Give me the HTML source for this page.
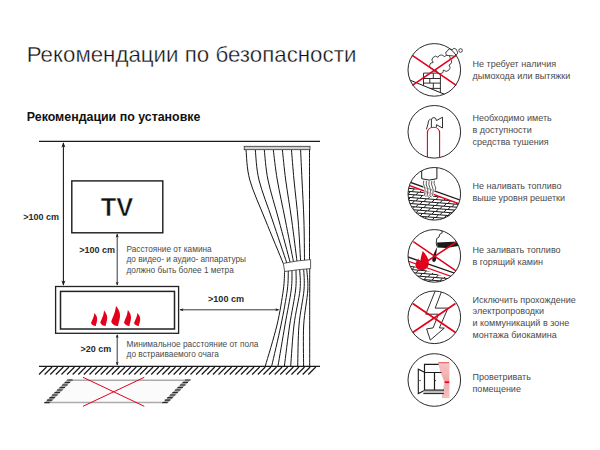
<!DOCTYPE html>
<html><head><meta charset="utf-8"><style>
html,body{margin:0;padding:0;background:#fff;}
body{width:600px;height:450px;position:relative;overflow:hidden;font-family:"Liberation Sans",sans-serif;}
svg{position:absolute;left:0;top:0;}
</style></head><body>
<svg width="600" height="450" viewBox="0 0 600 450">
<path d="M39 141.3H320" stroke="#1a1a1a" stroke-width="1.2"/>
<path d="M39 366.3H320" stroke="#1a1a1a" stroke-width="1.3"/>
<path d="M39 374.5L46.5 367 M44.61 374.5L52.11 367 M50.22 374.5L57.72 367 M55.83 374.5L63.33 367 M61.44 374.5L68.94 367 M67.05 374.5L74.55 367 M72.66 374.5L80.16 367 M78.27 374.5L85.77 367 M83.88 374.5L91.38 367 M89.49 374.5L96.99 367 M95.1 374.5L102.6 367 M100.71 374.5L108.21 367 M106.32 374.5L113.82 367 M111.93 374.5L119.43 367 M117.54 374.5L125.04 367 M123.15 374.5L130.65 367 M128.76 374.5L136.26 367 M134.37 374.5L141.87 367 M139.98 374.5L147.48 367 M145.59 374.5L153.09 367 M151.2 374.5L158.7 367 M156.81 374.5L164.31 367 M162.42 374.5L169.92 367 M168.03 374.5L175.53 367 M173.64 374.5L181.14 367 M179.25 374.5L186.75 367 M184.86 374.5L192.36 367 M190.47 374.5L197.97 367 M196.08 374.5L203.58 367 M201.69 374.5L209.19 367 M207.3 374.5L214.8 367 M212.91 374.5L220.41 367 M218.52 374.5L226.02 367 M224.13 374.5L231.63 367 M229.74 374.5L237.24 367 M235.35 374.5L242.85 367 M240.96 374.5L248.46 367 M246.57 374.5L254.07 367 M252.18 374.5L259.68 367 M257.79 374.5L265.29 367 M263.4 374.5L270.9 367 M269.01 374.5L276.51 367 M274.62 374.5L282.12 367 M280.23 374.5L287.73 367 M285.84 374.5L293.34 367 M291.45 374.5L298.95 367 M297.06 374.5L304.56 367 M302.67 374.5L310.17 367 M308.28 374.5L315.78 367" stroke="#1a1a1a" stroke-width="1.2"/>
<path d="M63.4 143V285" stroke="#1a1a1a" stroke-width="1.1"/>
<path d="M63.4 142.2 L61.4 147.5 L63.4 146.17 L65.4 147.5Z" fill="#1a1a1a"/>
<path d="M63.4 285.7 L61.4 280.4 L63.4 281.72 L65.4 280.4Z" fill="#1a1a1a"/>
<path d="M117.2 234V285" stroke="#222" stroke-width="0.9"/>
<path d="M117.2 233.6 L115.7 237.4 L117.2 236.45 L118.7 237.4Z" fill="#1a1a1a"/>
<path d="M117.2 285.6 L115.7 281.8 L117.2 282.75 L118.7 281.8Z" fill="#1a1a1a"/>
<path d="M117.2 335V365" stroke="#222" stroke-width="0.9"/>
<path d="M117.2 334.2 L115.7 338 L117.2 337.05 L118.7 338Z" fill="#1a1a1a"/>
<path d="M117.2 365.6 L115.7 361.8 L117.2 362.75 L118.7 361.8Z" fill="#1a1a1a"/>
<path d="M180 309.8H278.5" stroke="#222" stroke-width="0.9"/>
<path d="M179.6 309.8 L183.4 308.3 L182.45 309.8 L183.4 311.3Z" fill="#1a1a1a"/>
<path d="M279.2 309.8 L275.4 308.3 L276.35 309.8 L275.4 311.3Z" fill="#1a1a1a"/>
<rect x="71.8" y="180.9" width="91" height="51.9" fill="none" stroke="#1a1a1a" stroke-width="1.4"/>
<rect x="55.6" y="286.5" width="123" height="46.8" fill="none" stroke="#222" stroke-width="1.3"/>
<rect x="60.5" y="291.4" width="114" height="37.6" fill="none" stroke="#222" stroke-width="1.5"/>
<path d="M94.47 313 C96.33 315.34 97.39 317.16 97.2 319.76 C97.01 322.36 95.96 324.18 95.84 326 C94.1 325.87 91.5 325.09 91 323.01 C92.12 320.28 93.73 317.42 94.1 314.82 C94.22 313.91 94.29 313.39 94.47 313Z" fill="#e3001b"/>
<path d="M104.16 310.5 C106.23 313.29 107.41 315.46 107.2 318.56 C106.99 321.66 105.82 323.83 105.68 326 C103.75 325.85 100.85 324.92 100.3 322.44 C101.54 319.18 103.34 315.77 103.75 312.67 C103.89 311.58 103.96 310.96 104.16 310.5Z" fill="#e3001b"/>
<path d="M116.13 306 C118.77 309.6 120.26 312.4 120 316.4 C119.74 320.4 118.24 323.2 118.06 326 C115.6 325.8 111.9 324.6 111.2 321.4 C112.78 317.2 115.07 312.8 115.6 308.8 C115.78 307.4 115.86 306.6 116.13 306Z" fill="#e3001b"/>
<path d="M127.92 310 C130.02 312.88 131.21 315.12 131 318.32 C130.79 321.52 129.6 323.76 129.46 326 C127.5 325.84 124.56 324.88 124 322.32 C125.26 318.96 127.08 315.44 127.5 312.24 C127.64 311.12 127.71 310.48 127.92 310Z" fill="#e3001b"/>
<path d="M137.47 313 C139.33 315.34 140.39 317.16 140.2 319.76 C140.01 322.36 138.96 324.18 138.84 326 C137.1 325.87 134.5 325.09 134 323.01 C135.12 320.28 136.73 317.42 137.1 314.82 C137.22 313.91 137.29 313.39 137.47 313Z" fill="#e3001b"/>
<rect x="244.2" y="146.3" width="65.8" height="3.4" fill="#cfcfcf" stroke="#333" stroke-width="0.8"/>
<path d="M246 150 C246.63 155 246.57 168.33 249.8 180 C253.03 191.67 259.82 206.08 265.4 220 C270.98 233.92 280.32 256.25 283.3 263.5 M284.6 271.2 C284.38 274.33 284.57 281.03 283.3 290 C282.03 298.97 280 312.33 277 325 C274 337.67 267.25 359.17 265.3 366 M255.3 150 C255.92 155 256.15 168.33 259 180 C261.85 191.67 267.77 206.17 272.4 220 C277.03 233.83 284.4 255.82 286.8 262.99 M288.3 270.83 C288.13 274.02 288.52 280.97 287.3 290 C286.08 299.03 283.6 312.33 281 325 C278.4 337.67 273.25 359.17 271.7 366 M264.3 150 C264.92 155 265.58 168.33 268 180 C270.42 191.67 275.1 206.25 278.8 220 C282.5 233.75 288.3 255.39 290.2 262.47 M292 270.46 C291.87 273.71 292.37 280.91 291.2 290 C290.03 299.09 287.2 312.33 285 325 C282.8 337.67 279.17 359.17 278 366 M273.3 150 C273.97 155 275.3 168.33 277.3 180 C279.3 191.67 282.6 206.34 285.3 220 C288 233.66 292.13 254.96 293.5 261.96 M296 270.09 C295.93 273.4 296.65 280.85 295.6 290 C294.55 299.15 291.57 312.33 289.7 325 C287.83 337.67 285.28 359.17 284.4 366 M282.4 150 C282.95 155 284.15 168.33 285.7 180 C287.25 191.67 289.82 206.43 291.7 220 C293.58 233.57 296.12 254.54 297 261.44 M299.7 269.71 C299.75 273.1 300.95 280.79 300 290 C299.05 299.21 295.55 312.33 294 325 C292.45 337.67 291.25 359.17 290.7 366 M291.5 150 C291.92 155 292.9 168.33 294 180 C295.1 191.67 297 206.51 298.1 220 C299.2 233.49 300.18 254.11 300.6 260.93 M303.7 269.34 C303.75 272.79 304.78 280.72 304 290 C303.22 299.28 300.05 312.33 299 325 C297.95 337.67 297.92 359.17 297.7 366 M300.6 150 C300.83 155 301.45 168.33 302 180 C302.55 191.67 303.48 206.6 303.9 220 C304.32 233.4 304.4 253.68 304.5 260.41 M306.7 268.97 C306.88 272.48 308.3 280.66 307.8 290 C307.3 299.34 304.4 312.33 303.7 325 C303 337.67 303.62 359.17 303.6 366 M309.5 150 C309.5 155 309.5 168.33 309.5 180 C309.5 191.67 309.5 206.68 309.5 220 C309.5 233.32 309.5 253.25 309.5 259.9 M309.7 268.6 C309.7 272.17 309.7 280.6 309.7 290 C309.7 299.4 309.7 312.33 309.7 325 C309.7 337.67 309.7 359.17 309.7 366" fill="none" stroke="#151515" stroke-width="1"/>
<path d="M283.3 263.4 Q297 260.5 310.6 259.6 V268.6 Q297 269.6 284.7 271.5Z" fill="#fff" stroke="#333" stroke-width="0.8"/>
<path d="M67.5 380.2 H186 L163 402.4 H44.5Z" fill="#fbfbfb"/>
<path d="M70 380.2H186M44.5 402.4H163" stroke="#ababab" stroke-width="1.5"/>
<path d="M44.3 403 L67.3 379.6 H72.9 L49.9 403Z" fill="#a0a0a0"/><path d="M44.3 402.6h5.4 M46.86 400.09h5.4 M49.41 397.58h5.4 M51.97 395.07h5.4 M54.52 392.56h5.4 M57.08 390.04h5.4 M59.63 387.53h5.4 M62.19 385.02h5.4 M64.74 382.51h5.4 M67.3 380h5.4" stroke="#2a2a2a" stroke-width="1.1"/>
<path d="M162.2 403 L185.2 379.6 H190.8 L167.8 403Z" fill="#a0a0a0"/><path d="M162.2 402.6h5.4 M164.76 400.09h5.4 M167.31 397.58h5.4 M169.87 395.07h5.4 M172.42 392.56h5.4 M174.98 390.04h5.4 M177.53 387.53h5.4 M180.09 385.02h5.4 M182.64 382.51h5.4 M185.2 380h5.4" stroke="#2a2a2a" stroke-width="1.1"/>
<path d="M83 377.3L144.3 406.3M144.3 377.3L83 406.3" stroke="#e3001b" stroke-width="1"/>
<clipPath id="c0"><circle cx="434.3" cy="69.9" r="26.3"/></clipPath>
<clipPath id="c1"><circle cx="434.3" cy="131.8" r="26.3"/></clipPath>
<clipPath id="c2"><circle cx="434.3" cy="193.8" r="26.3"/></clipPath>
<clipPath id="c3"><circle cx="434.3" cy="255.9" r="26.3"/></clipPath>
<clipPath id="c4"><circle cx="434.3" cy="317.3" r="26.3"/></clipPath>
<clipPath id="c5"><circle cx="434.3" cy="380.0" r="26.3"/></clipPath>
<clipPath id="sl1"><path d="M400 40 H470 V104.7 L400 76Z"/></clipPath>
<g clip-path="url(#c0)"><path d="M408 79.3 L447 95.3" stroke="#1a1a1a" stroke-width="1"/><g clip-path="url(#sl1)"><path d="M423.5 73.1 H440.4 V95 M423.5 73.1 V90 M423.5 78.5H440.4 M423.5 83.1H440.4 M423.5 88.4H440.4 M433.3 73.1V78.5 M429.8 78.5V83.1 M433.3 83.1V88.4 M429.8 88.4V94" fill="none" stroke="#1a1a1a" stroke-width="0.9"/></g></g>
<path d="M432.5 69 A3 3 0 0 1 433.2 62.5 A3.5 3.5 0 0 1 438 57.3 A3.5 3.5 0 0 1 444.5 57 A3 3 0 0 1 450.2 58.8 A3.5 3.5 0 0 1 449 65 A3.5 3.5 0 0 1 443.5 70 A3.5 3.5 0 0 1 436.5 70.5 A2.5 2.5 0 0 1 432.5 69 Z" fill="#fff" stroke="#1a1a1a" stroke-width="0.8"/>
<path d="M448.5 55.5 A2.3 2.3 0 0 1 447.5 51 A2.5 2.5 0 0 1 452 50 A2.5 2.5 0 0 1 456.8 50.8 A2.5 2.5 0 0 1 456 55 A3 3 0 0 1 452 55.8 Z" fill="#fff" stroke="#1a1a1a" stroke-width="0.8"/>
<circle cx="460.6" cy="50.5" r="1.8" fill="none" stroke="#1a1a1a" stroke-width="0.8"/>
<path d="M412.3 55.3L456.3 85.3M456.3 55.3L412.3 85.3" stroke="#e3001b" stroke-width="1.6"/>
<g clip-path="url(#c1)"><path d="M427.4 160 V133 C427.4 129.5 430 127.3 433.5 127.3 C437 127.3 439.6 129.5 439.6 133 V160" fill="none" stroke="#e3001b" stroke-width="1.1"/></g>
<path d="M426.4 129.4 L428 124 Q428.3 119.5 430.6 119.2 M431.4 127.2 V120 Q431.5 117.6 433.9 117.6 Q436.4 117.7 436.4 120.6 L442.5 117.2 V128 L436.4 124.7 V127.2" fill="none" stroke="#1a1a1a" stroke-width="0.9"/>
<clipPath id="h3"><path d="M404 184.5 L466 206 V230 H404Z"/></clipPath>
<g clip-path="url(#c2)"><g clip-path="url(#h3)"><path d="M404 182 L466 186.96 M404 185 L406.4 182.19 M412 185.64 L414.4 182.83 M420 186.28 L422.4 183.47 M428 186.92 L430.4 184.11 M436 187.56 L438.4 184.75 M444 188.2 L446.4 185.39 M452 188.84 L454.4 186.03 M460 189.48 L462.4 186.67 M404 185 L466 189.96 M408 188.32 L410.4 185.51 M416 188.96 L418.4 186.15 M424 189.6 L426.4 186.79 M432 190.24 L434.4 187.43 M440 190.88 L442.4 188.07 M448 191.52 L450.4 188.71 M456 192.16 L458.4 189.35 M464 192.8 L466.4 189.99 M404 188 L466 192.96 M404 191 L406.4 188.19 M412 191.64 L414.4 188.83 M420 192.28 L422.4 189.47 M428 192.92 L430.4 190.11 M436 193.56 L438.4 190.75 M444 194.2 L446.4 191.39 M452 194.84 L454.4 192.03 M460 195.48 L462.4 192.67 M404 191 L466 195.96 M408 194.32 L410.4 191.51 M416 194.96 L418.4 192.15 M424 195.6 L426.4 192.79 M432 196.24 L434.4 193.43 M440 196.88 L442.4 194.07 M448 197.52 L450.4 194.71 M456 198.16 L458.4 195.35 M464 198.8 L466.4 195.99 M404 194 L466 198.96 M404 197 L406.4 194.19 M412 197.64 L414.4 194.83 M420 198.28 L422.4 195.47 M428 198.92 L430.4 196.11 M436 199.56 L438.4 196.75 M444 200.2 L446.4 197.39 M452 200.84 L454.4 198.03 M460 201.48 L462.4 198.67 M404 197 L466 201.96 M408 200.32 L410.4 197.51 M416 200.96 L418.4 198.15 M424 201.6 L426.4 198.79 M432 202.24 L434.4 199.43 M440 202.88 L442.4 200.07 M448 203.52 L450.4 200.71 M456 204.16 L458.4 201.35 M464 204.8 L466.4 201.99 M404 200 L466 204.96 M404 203 L406.4 200.19 M412 203.64 L414.4 200.83 M420 204.28 L422.4 201.47 M428 204.92 L430.4 202.11 M436 205.56 L438.4 202.75 M444 206.2 L446.4 203.39 M452 206.84 L454.4 204.03 M460 207.48 L462.4 204.67 M404 203 L466 207.96 M408 206.32 L410.4 203.51 M416 206.96 L418.4 204.15 M424 207.6 L426.4 204.79 M432 208.24 L434.4 205.43 M440 208.88 L442.4 206.07 M448 209.52 L450.4 206.71 M456 210.16 L458.4 207.35 M464 210.8 L466.4 207.99 M404 206 L466 210.96 M404 209 L406.4 206.19 M412 209.64 L414.4 206.83 M420 210.28 L422.4 207.47 M428 210.92 L430.4 208.11 M436 211.56 L438.4 208.75 M444 212.2 L446.4 209.39 M452 212.84 L454.4 210.03 M460 213.48 L462.4 210.67 M404 209 L466 213.96 M408 212.32 L410.4 209.51 M416 212.96 L418.4 210.15 M424 213.6 L426.4 210.79 M432 214.24 L434.4 211.43 M440 214.88 L442.4 212.07 M448 215.52 L450.4 212.71 M456 216.16 L458.4 213.35 M464 216.8 L466.4 213.99 M404 212 L466 216.96 M404 215 L406.4 212.19 M412 215.64 L414.4 212.83 M420 216.28 L422.4 213.47 M428 216.92 L430.4 214.11 M436 217.56 L438.4 214.75 M444 218.2 L446.4 215.39 M452 218.84 L454.4 216.03 M460 219.48 L462.4 216.67 M404 215 L466 219.96 M408 218.32 L410.4 215.51 M416 218.96 L418.4 216.15 M424 219.6 L426.4 216.79 M432 220.24 L434.4 217.43 M440 220.88 L442.4 218.07 M448 221.52 L450.4 218.71 M456 222.16 L458.4 219.35 M464 222.8 L466.4 219.99 M404 218 L466 222.96 M404 221 L406.4 218.19 M412 221.64 L414.4 218.83 M420 222.28 L422.4 219.47 M428 222.92 L430.4 220.11 M436 223.56 L438.4 220.75 M444 224.2 L446.4 221.39 M452 224.84 L454.4 222.03 M460 225.48 L462.4 222.67 M404 221 L466 225.96 M408 224.32 L410.4 221.51 M416 224.96 L418.4 222.15 M424 225.6 L426.4 222.79 M432 226.24 L434.4 223.43 M440 226.88 L442.4 224.07 M448 227.52 L450.4 224.71 M456 228.16 L458.4 225.35 M464 228.8 L466.4 225.99 M404 224 L466 228.96 M404 227 L406.4 224.19 M412 227.64 L414.4 224.83 M420 228.28 L422.4 225.47 M428 228.92 L430.4 226.11 M436 229.56 L438.4 226.75 M444 230.2 L446.4 227.39 M452 230.84 L454.4 228.03 M460 231.48 L462.4 228.67" stroke="#1a1a1a" stroke-width="1.0" fill="none"/></g><path d="M404 180.1 L466 202.2" stroke="#1a1a1a" stroke-width="1.3"/><path d="M404 183.5 L466 206.3" stroke="#e3001b" stroke-width="1.3"/><path d="M421.7 160 V178.7 Q429 181.5 436.9 178.7 V160" fill="#fff" stroke="#1a1a1a" stroke-width="1"/><path d="M423.8 180.6 q-1 3 0.5 6 t0.5 6 t1 4 M426.5 181 q-1 3 0.5 6 t0.5 6 t1 4 M429.2 181.2 q-1 3 0.5 6 t0.5 6 t1 4 M431.9 181 q-1 3 0.5 6 t0.5 6 t1 4 M434.4 180.6 q-1 3 0.5 5 t0.5 5" fill="none" stroke="#fff" stroke-width="2.2"/><path d="M423.8 180.6 q-1 3 0.5 6 t0.5 6 t1 4 M426.5 181 q-1 3 0.5 6 t0.5 6 t1 4 M429.2 181.2 q-1 3 0.5 6 t0.5 6 t1 4 M431.9 181 q-1 3 0.5 6 t0.5 6 t1 4 M434.4 180.6 q-1 3 0.5 5 t0.5 5" fill="none" stroke="#1a1a1a" stroke-width="0.7"/></g>
<clipPath id="h4"><path d="M404 262.5 L466 284.5 V295 H404Z"/></clipPath>
<g clip-path="url(#c3)"><g clip-path="url(#h4)"><path d="M404 260 L466 264.96 M404 263 L406.4 260.19 M412 263.64 L414.4 260.83 M420 264.28 L422.4 261.47 M428 264.92 L430.4 262.11 M436 265.56 L438.4 262.75 M444 266.2 L446.4 263.39 M452 266.84 L454.4 264.03 M460 267.48 L462.4 264.67 M404 263 L466 267.96 M408 266.32 L410.4 263.51 M416 266.96 L418.4 264.15 M424 267.6 L426.4 264.79 M432 268.24 L434.4 265.43 M440 268.88 L442.4 266.07 M448 269.52 L450.4 266.71 M456 270.16 L458.4 267.35 M464 270.8 L466.4 267.99 M404 266 L466 270.96 M404 269 L406.4 266.19 M412 269.64 L414.4 266.83 M420 270.28 L422.4 267.47 M428 270.92 L430.4 268.11 M436 271.56 L438.4 268.75 M444 272.2 L446.4 269.39 M452 272.84 L454.4 270.03 M460 273.48 L462.4 270.67 M404 269 L466 273.96 M408 272.32 L410.4 269.51 M416 272.96 L418.4 270.15 M424 273.6 L426.4 270.79 M432 274.24 L434.4 271.43 M440 274.88 L442.4 272.07 M448 275.52 L450.4 272.71 M456 276.16 L458.4 273.35 M464 276.8 L466.4 273.99 M404 272 L466 276.96 M404 275 L406.4 272.19 M412 275.64 L414.4 272.83 M420 276.28 L422.4 273.47 M428 276.92 L430.4 274.11 M436 277.56 L438.4 274.75 M444 278.2 L446.4 275.39 M452 278.84 L454.4 276.03 M460 279.48 L462.4 276.67 M404 275 L466 279.96 M408 278.32 L410.4 275.51 M416 278.96 L418.4 276.15 M424 279.6 L426.4 276.79 M432 280.24 L434.4 277.43 M440 280.88 L442.4 278.07 M448 281.52 L450.4 278.71 M456 282.16 L458.4 279.35 M464 282.8 L466.4 279.99 M404 278 L466 282.96 M404 281 L406.4 278.19 M412 281.64 L414.4 278.83 M420 282.28 L422.4 279.47 M428 282.92 L430.4 280.11 M436 283.56 L438.4 280.75 M444 284.2 L446.4 281.39 M452 284.84 L454.4 282.03 M460 285.48 L462.4 282.67 M404 281 L466 285.96 M408 284.32 L410.4 281.51 M416 284.96 L418.4 282.15 M424 285.6 L426.4 282.79 M432 286.24 L434.4 283.43 M440 286.88 L442.4 284.07 M448 287.52 L450.4 284.71 M456 288.16 L458.4 285.35 M464 288.8 L466.4 285.99 M404 284 L466 288.96 M404 287 L406.4 284.19 M412 287.64 L414.4 284.83 M420 288.28 L422.4 285.47 M428 288.92 L430.4 286.11 M436 289.56 L438.4 286.75 M444 290.2 L446.4 287.39 M452 290.84 L454.4 288.03 M460 291.48 L462.4 288.67 M404 287 L466 291.96 M408 290.32 L410.4 287.51 M416 290.96 L418.4 288.15 M424 291.6 L426.4 288.79 M432 292.24 L434.4 289.43 M440 292.88 L442.4 290.07 M448 293.52 L450.4 290.71 M456 294.16 L458.4 291.35 M464 294.8 L466.4 291.99" stroke="#1a1a1a" stroke-width="1.0" fill="none"/></g><path d="M404 255.6 L466 277.2" stroke="#1a1a1a" stroke-width="1.2"/><path d="M404 259.6 L466 281.6" stroke="#e3001b" stroke-width="1.2"/><path d="M441.5 228.5 L442.2 232.8 L439.8 234.2 L439 237 L436.8 238.5 L436.2 243 L437 246.5" fill="none" stroke="#1a1a1a" stroke-width="0.9"/><path d="M437 242.5 L458.5 241.5 L460 245.8 L446 248 L437.5 247.5 Z" fill="#1a1a1a"/><path d="M437.4 246.5 C436.8 250 436.2 253 436 255.5 C436.8 258 436.2 261.6 434 261.9 C431.8 262.1 431.9 259 432.9 256 C434.2 252.5 435.8 249.5 437.4 246.5Z" fill="#1a1a1a"/><path d="M413.3 241.6 L456 270.8 M457 241.5 L424.5 263" stroke="#e3001b" stroke-width="1.5"/><path d="M422.7 251 C425.5 254 428.8 258 428.8 263 C428.8 267.5 425.5 270.2 421.8 270.2 C417.5 270.2 415.2 267.5 415.5 264 C415.8 261.5 417.5 259.8 418.5 258.2 C418.5 260.8 419.5 262 420.5 262.5 C420.2 259.5 421.2 256 422.7 251Z" fill="#e3001b"/></g>
<path d="M435.2 291 L425.8 314.2 L438.5 314.2 L433.1 327.9 L426.6 328.9 L430.3 340.1 L444.3 328.1 L439.4 327.9 L448 308.1 L435.2 308.1 L441.7 291" fill="none" stroke="#1a1a1a" stroke-width="0.9" clip-path="url(#c4)"/>
<path d="M412.7 303.5L455.5 332.5M455.5 303.5L412.7 332.5" stroke="#e3001b" stroke-width="1.6"/>
<path d="M438.6 363 Q441 374 444.6 381.5 L442.2 398 H449.2 V363Z" fill="#fdf2f2"/>
<path d="M438.6 363 Q440.8 374 444.6 381.5 M439.64 363 Q441.62 374 445.04 381.5 M440.68 363 Q442.44 374 445.48 381.5 M441.72 363 Q443.26 374 445.92 381.5 M442.76 363 Q444.08 374 446.36 381.5 M443.8 363 Q444.9 374 446.8 381.5 M444.84 363 Q445.72 374 447.24 381.5 M445.88 363 Q446.54 374 447.68 381.5 M446.92 363 Q447.36 374 448.12 381.5 M447.96 363 Q448.18 374 448.56 381.5 M449 363 Q449 374 449 381.5 M444.6 383 L442.2 398 M445.23 383 L443.17 398 M445.86 383 L444.14 398 M446.49 383 L445.11 398 M447.11 383 L446.09 398 M447.74 383 L447.06 398 M448.37 383 L448.03 398 M449 383 L449 398" stroke="#ec8c8c" stroke-width="0.55" fill="none"/>
<path d="M438.3 362.6H449.2" stroke="#ea7070" stroke-width="1.3"/>
<path d="M424.5 390.2 V364.3 H438.6 M424.5 372.5 H441.5 M434.5 372.5 V390.2 M424.5 390.2 H444" fill="none" stroke="#1a1a1a" stroke-width="1.2"/>
<path d="M424.5 372.3 L418.3 369.2 V393.5 L424.5 390.5" fill="none" stroke="#1a1a1a" stroke-width="1.1"/>
<path d="M419.3 380.6h1.6 M434.5 380.6h1.6" stroke="#1a1a1a" stroke-width="0.8"/>
<path d="M423.5 390.9 H443.8 V393.2 H423.5 Z" fill="#bdbdbd"/>
<path d="M423.3 393.6 H443.8" stroke="#1a1a1a" stroke-width="1"/>
<path d="M444.5 382.2h4.8" stroke="#e3001b" stroke-width="1.7"/>
<circle cx="434.3" cy="69.9" r="26.3" fill="none" stroke="#2a2a2a" stroke-width="1"/>
<circle cx="434.3" cy="131.8" r="26.3" fill="none" stroke="#2a2a2a" stroke-width="1"/>
<circle cx="434.3" cy="193.8" r="26.3" fill="none" stroke="#2a2a2a" stroke-width="1"/>
<circle cx="434.3" cy="255.9" r="26.3" fill="none" stroke="#2a2a2a" stroke-width="1"/>
<circle cx="434.3" cy="317.3" r="26.3" fill="none" stroke="#2a2a2a" stroke-width="1"/>
<circle cx="434.3" cy="380.0" r="26.3" fill="none" stroke="#2a2a2a" stroke-width="1"/>
</svg>
<div style="position:absolute;left:26.7px;top:43.52px;font-size:22.3px;line-height:22.3px;font-weight:400;color:#111;white-space:pre;-webkit-text-stroke:0.35px #fff;">Рекомендации по безопасности</div>
<div style="position:absolute;left:26.8px;top:110.7px;font-size:12.4px;line-height:12.4px;font-weight:700;color:#111;white-space:pre;">Рекомендации по установке</div>
<div style="position:absolute;left:23.3px;top:212.88px;font-size:9px;line-height:9px;font-weight:700;color:#2a2a2a;white-space:pre;">&gt;100 cm</div>
<div style="position:absolute;left:100.8px;top:194.5px;font-size:25.4px;line-height:25.4px;font-weight:700;color:#111;white-space:pre;-webkit-text-stroke:0.5px #fff;">TV</div>
<div style="position:absolute;left:79.2px;top:245.78px;font-size:9px;line-height:9px;font-weight:700;color:#2a2a2a;white-space:pre;">&gt;100 cm</div>
<div style="position:absolute;left:126.5px;top:245.52px;font-size:8.25px;line-height:8.25px;font-weight:400;color:#4a4a4a;white-space:pre;">Расстояние от камина</div>
<div style="position:absolute;left:126.5px;top:256.02px;font-size:8.25px;line-height:8.25px;font-weight:400;color:#4a4a4a;white-space:pre;">до видео- и аудио- аппаратуры</div>
<div style="position:absolute;left:126.5px;top:266.52px;font-size:8.25px;line-height:8.25px;font-weight:400;color:#4a4a4a;white-space:pre;">должно быть более 1 метра</div>
<div style="position:absolute;left:208px;top:294.5px;font-size:9.1px;line-height:9.1px;font-weight:700;color:#2a2a2a;white-space:pre;">&gt;100 cm</div>
<div style="position:absolute;left:80.5px;top:345.18px;font-size:9px;line-height:9px;font-weight:700;color:#2a2a2a;white-space:pre;">&gt;20 cm</div>
<div style="position:absolute;left:126.6px;top:340.47px;font-size:8.3px;line-height:8.3px;font-weight:400;color:#4a4a4a;white-space:pre;">Минимальное расстояние от пола</div>
<div style="position:absolute;left:126.6px;top:350.47px;font-size:8.3px;line-height:8.3px;font-weight:400;color:#4a4a4a;white-space:pre;">до встраиваемого очага</div>
<div style="position:absolute;left:472.5px;top:60.08px;font-size:9px;line-height:9px;font-weight:400;color:#4a4a4a;white-space:pre;">Не требует наличия</div>
<div style="position:absolute;left:472.5px;top:71.83px;font-size:9px;line-height:9px;font-weight:400;color:#4a4a4a;white-space:pre;">дымохода или вытяжки</div>
<div style="position:absolute;left:472.5px;top:114.08px;font-size:9px;line-height:9px;font-weight:400;color:#4a4a4a;white-space:pre;">Необходимо иметь</div>
<div style="position:absolute;left:472.5px;top:125.83px;font-size:9px;line-height:9px;font-weight:400;color:#4a4a4a;white-space:pre;">в доступности</div>
<div style="position:absolute;left:472.5px;top:137.58px;font-size:9px;line-height:9px;font-weight:400;color:#4a4a4a;white-space:pre;">средства тушения</div>
<div style="position:absolute;left:472.5px;top:182.38px;font-size:9px;line-height:9px;font-weight:400;color:#4a4a4a;white-space:pre;">Не наливать топливо</div>
<div style="position:absolute;left:472.5px;top:194.13px;font-size:9px;line-height:9px;font-weight:400;color:#4a4a4a;white-space:pre;">выше уровня решетки</div>
<div style="position:absolute;left:472.5px;top:245.88px;font-size:9px;line-height:9px;font-weight:400;color:#4a4a4a;white-space:pre;">Не заливать топливо</div>
<div style="position:absolute;left:472.5px;top:257.63px;font-size:9px;line-height:9px;font-weight:400;color:#4a4a4a;white-space:pre;">в горящий камин</div>
<div style="position:absolute;left:472.5px;top:295.68px;font-size:9px;line-height:9px;font-weight:400;color:#4a4a4a;white-space:pre;">Исключить прохождение</div>
<div style="position:absolute;left:472.5px;top:307.43px;font-size:9px;line-height:9px;font-weight:400;color:#4a4a4a;white-space:pre;">электропроводки</div>
<div style="position:absolute;left:472.5px;top:319.18px;font-size:9px;line-height:9px;font-weight:400;color:#4a4a4a;white-space:pre;">и коммуникаций в зоне</div>
<div style="position:absolute;left:472.5px;top:330.93px;font-size:9px;line-height:9px;font-weight:400;color:#4a4a4a;white-space:pre;">монтажа биокамина</div>
<div style="position:absolute;left:472.5px;top:373.28px;font-size:9px;line-height:9px;font-weight:400;color:#4a4a4a;white-space:pre;">Проветривать</div>
<div style="position:absolute;left:472.5px;top:385.03px;font-size:9px;line-height:9px;font-weight:400;color:#4a4a4a;white-space:pre;">помещение</div>
</body></html>
